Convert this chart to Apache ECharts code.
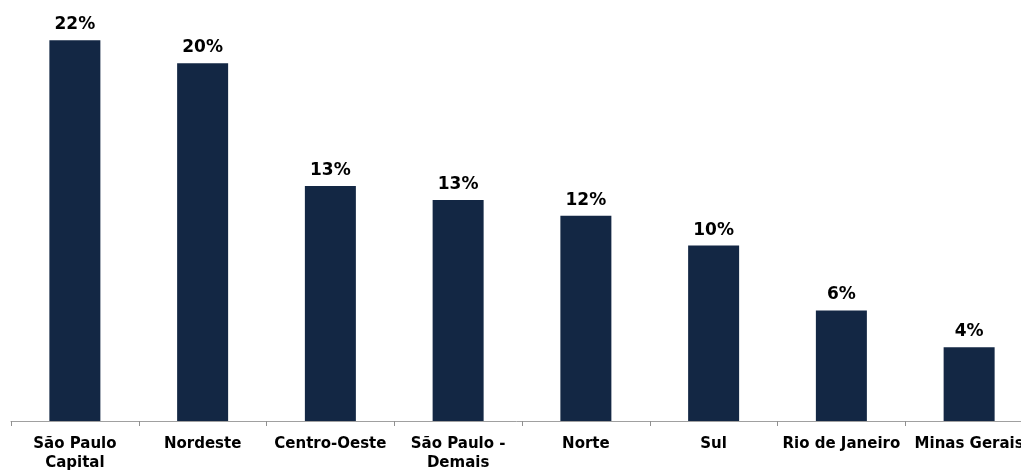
<!DOCTYPE html>
<html>
<head>
<meta charset="utf-8">
<script src="https://cdn.jsdelivr.net/npm/echarts@6/dist/echarts.min.js"></script>
<style>
  html, body { margin: 0; padding: 0; background: #fff; }
  #chart { width: 1021px; height: 471px; }
</style>
</head>
<body>
<div id="chart"></div>
<script>
const categories = ['São Paulo\nCapital', 'Nordeste', 'Centro-Oeste', 'São Paulo -\nDemais', 'Norte', 'Sul', 'Rio de Janeiro', 'Minas Gerais']
const shares = [21.7, 20.4, 13.4, 12.6, 11.7, 10.0, 6.3, 4.2]

const barColor = '#132744'
const font = 'DejaVu Sans'

const chart = echarts.init(document.getElementById('chart'))

chart.setOption({
  animation: false,
  grid: { left: 11, top: 0, bottom: 50, right: -12, outerBoundsMode: 'none', containLabel: false },
  xAxis: {
    type: 'category',
    data: categories,
    axisLine: { lineStyle: { color: '#a0a0a0', width: 1 } },
    axisTick: { show: true, length: 5, lineStyle: { color: '#909090' } },
    axisLabel: {
      interval: 0,
      margin: 14,
      color: '#000',
      fontFamily: font,
      fontWeight: 'bold',
      fontSize: 15,
      lineHeight: 19
    }
  },
  yAxis: {
    type: 'value',
    min: 0,
    max: 24,
    show: false,
    splitLine: { show: false }
  },
  series: [
    {
      type: 'bar',
      data: shares,
      barWidth: 51,
      itemStyle: { color: barColor },
      label: {
        show: true,
        position: 'top',
        distance: 7,
        color: '#000',
        fontFamily: font,
        fontWeight: 'bold',
        fontSize: 17,
        formatter: (p) => Math.round(p.value) + '%'
      }
    }
  ]
})
</script>
</body>
</html>
